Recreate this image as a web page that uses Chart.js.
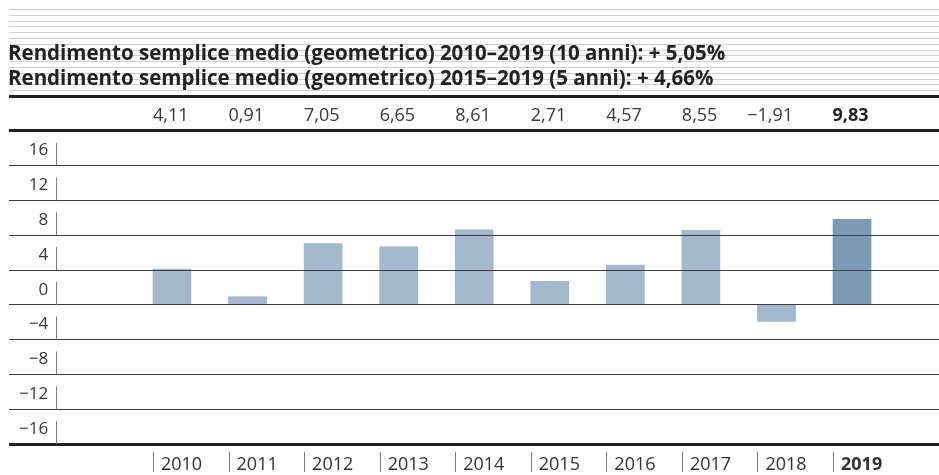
<!DOCTYPE html>
<html>
<head>
<meta charset="utf-8">
<script src="https://cdn.jsdelivr.net/npm/chart.js@4"></script>
<style>
  body { margin: 0; background: #fff; }
  canvas { display: block; }
</style>
</head>
<body>
<canvas id="grafico" width="939" height="475"></canvas>
<script>
// dati del grafico
const anni = [2010, 2011, 2012, 2013, 2014, 2015, 2016, 2017, 2018, 2019];
const rendimenti = [4.11, 0.91, 7.05, 6.65, 8.61, 2.71, 4.57, 8.55, -1.91, 9.83];
const tickY = [-16, -12, -8, -4, 0, 4, 8, 12, 16];
const titolo = [
  "Rendimento semplice medio (geometrico) 2010–2019 (10 anni): + 5,05%",
  "Rendimento semplice medio (geometrico) 2015–2019 (5 anni): + 4,66%"
];
const annoEvidenziato = 2019;

const FONT = "'Open Sans', 'DejaVu Sans', sans-serif";
const formatNum = (v, dec) => (v < 0 ? "\u2212" : "") + Math.abs(v).toFixed(dec).replace(".", ",");

// righe sottili di sfondo, marcatori "|" e valori sopra le barre
const decorazioni = {
  id: "decorazioni",
  beforeDraw(chart) {
    const { ctx, chartArea, scales: { y } } = chart;
    ctx.save();
    ctx.strokeStyle = "#cfcfcf";
    ctx.lineWidth = 1;
    for (let k = 1; k <= 15; k++) {
      const py = Math.round(y.getPixelForValue(24 + k * 2 / 3)) + 0.5;
      ctx.beginPath();
      ctx.moveTo(chartArea.left, py);
      ctx.lineTo(chartArea.right, py);
      ctx.stroke();
    }
    ctx.restore();
  },
  afterDraw(chart) {
    const { ctx, chartArea, scales: { y } } = chart;
    const meta = chart.getDatasetMeta(0);
    ctx.save();
    ctx.strokeStyle = "#808080";
    ctx.lineWidth = 1;
    // marcatori asse y
    tickY.forEach(v => {
      const py = y.getPixelForValue(v);
      ctx.beginPath();
      ctx.moveTo(56.5, py - 23);
      ctx.lineTo(56.5, py);
      ctx.stroke();
    });
    // marcatori asse x
    meta.data.forEach(bar => {
      const px = Math.round(bar.x - bar.width / 2) + 0.5;
      ctx.beginPath();
      ctx.moveTo(px, chartArea.bottom + 8);
      ctx.lineTo(px, chartArea.bottom + 28);
      ctx.stroke();
    });
    // valori
    ctx.textAlign = "right";
    ctx.textBaseline = "alphabetic";
    meta.data.forEach((bar, i) => {
      const bold = anni[i] === annoEvidenziato;
      ctx.font = (bold ? "bold " : "") + "18px " + FONT;
      ctx.fillStyle = bold ? "#222" : "#3a3a3a";
      ctx.fillText(formatNum(rendimenti[i], 2), bar.x + bar.width / 2 - 2.5, 121);
    });
    ctx.restore();
  }
};

new Chart(document.getElementById("grafico"), {
  type: "bar",
  data: {
    datasets: [{
      data: anni.map((a, i) => ({ x: a, y: rendimenti[i] })),
      backgroundColor: anni.map(a => a === annoEvidenziato ? "#7b9ab6" : "#a3b8cc"),
      borderWidth: 0,
      barThickness: 38
    }]
  },
  options: {
    responsive: false,
    animation: false,
    layout: { padding: { left: 8, right: 0, top: 0, bottom: 0 } },
    plugins: {
      legend: { display: false },
      tooltip: { enabled: false },
      title: {
        display: true,
        text: titolo,
        align: "start",
        color: "#222",
        font: { family: FONT, size: 20.5, weight: "bold", lineHeight: 25 / 20.5 },
        padding: { top: 42, bottom: 4 }
      }
    },
    scales: {
      x: {
        type: "linear",
        offset: false,
        min: 2007.843,
        max: 2020.151,
        grid: { display: false, offset: false },
        border: { display: false },
        afterBuildTicks: s => { s.ticks = anni.map(a => ({ value: a })); },
        afterFit: s => { s.height = 31; },
        ticks: {
          autoSkip: false,
          maxRotation: 0,
          align: "start",
          labelOffset: -11,
          padding: 2,
          color: "#333",
          font: c => ({ family: FONT, size: 18, weight: c.tick && c.tick.value === annoEvidenziato ? "bold" : "normal" }),
          callback: v => String(v)
        }
      },
      y: {
        min: -16,
        max: 24,
        border: { display: false },
        afterFit: s => { s.width = 1; },
        grid: {
          z: 1,
          drawTicks: false,
          color: c => (c.tick && [24, 20, -16].includes(c.tick.value)) ? "#222" : "#3c3c3c",
          lineWidth: c => (c.tick && [24, 20, -16].includes(c.tick.value)) ? 3 : 1
        },
        ticks: {
          stepSize: 4,
          mirror: true,
          crossAlign: "far",
          padding: 10,
          labelOffset: -15,
          color: "#3a3a3a",
          font: { family: FONT, size: 17 },
          callback: v => (v >= 20 ? "" : formatNum(v, 0))
        }
      }
    }
  },
  plugins: [decorazioni]
});
</script>
</body>
</html>
